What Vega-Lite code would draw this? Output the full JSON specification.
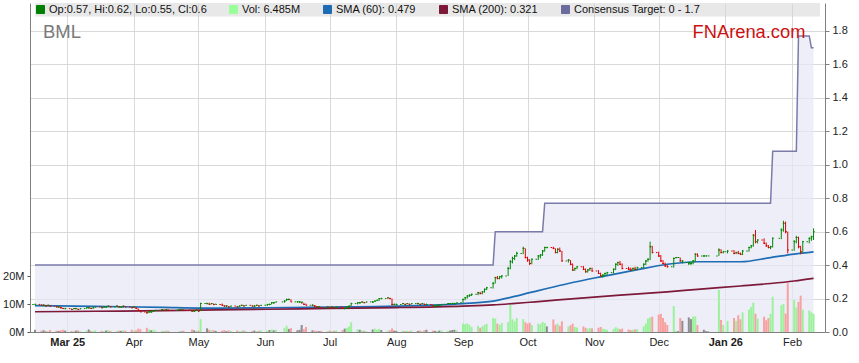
{
  "$schema": "https://vega.github.io/schema/vega-lite/v6.json",
  "width": 795,
  "height": 329,
  "autosize": {"type": "none"},
  "padding": {"left": 30, "top": 3, "right": 34, "bottom": 31},
  "background": "white",
  "config": {
    "font": "Liberation Sans",
    "view": {"stroke": null},
    "axis": {"labelFont": "Liberation Sans", "labelFontSize": 11, "labelColor": "#222222"}
  },
  "datasets": {
    "tgt": [
      {"d": "2025-02-14", "t": 0.4},
      {"d": "2025-09-15", "t": 0.4},
      {"d": "2025-09-16", "t": 0.6},
      {"d": "2025-10-08", "t": 0.6},
      {"d": "2025-10-09", "t": 0.77},
      {"d": "2026-01-22", "t": 0.77},
      {"d": "2026-01-23", "t": 1.08},
      {"d": "2026-02-03", "t": 1.08},
      {"d": "2026-02-04", "t": 1.77},
      {"d": "2026-02-09", "t": 1.77},
      {"d": "2026-02-10", "t": 1.7},
      {"d": "2026-02-11", "t": 1.7}
    ],
    "sma": [
      {"d": "2025-02-14", "m60": 0.158, "m200": 0.121},
      {"d": "2025-03-14", "m60": 0.153, "m200": 0.124},
      {"d": "2025-04-15", "m60": 0.147, "m200": 0.128},
      {"d": "2025-05-01", "m60": 0.143, "m200": 0.131},
      {"d": "2025-06-02", "m60": 0.145, "m200": 0.136},
      {"d": "2025-07-01", "m60": 0.149, "m200": 0.141},
      {"d": "2025-08-01", "m60": 0.155, "m200": 0.146},
      {"d": "2025-09-01", "m60": 0.17, "m200": 0.155},
      {"d": "2025-09-15", "m60": 0.185, "m200": 0.162},
      {"d": "2025-09-24", "m60": 0.21, "m200": 0.17},
      {"d": "2025-10-02", "m60": 0.235, "m200": 0.178},
      {"d": "2025-10-10", "m60": 0.26, "m200": 0.186},
      {"d": "2025-10-20", "m60": 0.29, "m200": 0.197},
      {"d": "2025-11-04", "m60": 0.33, "m200": 0.212},
      {"d": "2025-11-20", "m60": 0.37, "m200": 0.226},
      {"d": "2025-12-05", "m60": 0.405, "m200": 0.24},
      {"d": "2025-12-19", "m60": 0.42, "m200": 0.255},
      {"d": "2026-01-08", "m60": 0.42, "m200": 0.275},
      {"d": "2026-01-22", "m60": 0.445, "m200": 0.29},
      {"d": "2026-02-02", "m60": 0.466, "m200": 0.305},
      {"d": "2026-02-11", "m60": 0.479, "m200": 0.321}
    ],
    "ohlc": [
      {"d":"2025-02-14","o":0.165,"h":0.17,"l":0.16,"c":0.165,"v":0.8},
      {"d":"2025-02-17","o":0.165,"h":0.165,"l":0.16,"c":0.16,"v":0.5},
      {"d":"2025-02-18","o":0.16,"h":0.165,"l":0.155,"c":0.16,"v":0.6},
      {"d":"2025-02-19","o":0.16,"h":0.16,"l":0.155,"c":0.155,"v":0.4},
      {"d":"2025-02-20","o":0.155,"h":0.16,"l":0.155,"c":0.16,"v":0.3},
      {"d":"2025-02-21","o":0.16,"h":0.16,"l":0.15,"c":0.155,"v":0.7},
      {"d":"2025-02-24","o":0.155,"h":0.155,"l":0.15,"c":0.15,"v":0.5},
      {"d":"2025-02-25","o":0.15,"h":0.155,"l":0.145,"c":0.15,"v":0.4},
      {"d":"2025-02-26","o":0.15,"h":0.15,"l":0.14,"c":0.145,"v":0.6},
      {"d":"2025-02-27","o":0.145,"h":0.145,"l":0.14,"c":0.14,"v":0.8},
      {"d":"2025-02-28","o":0.14,"h":0.145,"l":0.135,"c":0.14,"v":0.5},
      {"d":"2025-03-03","o":0.14,"h":0.14,"l":0.135,"c":0.135,"v":0.4},
      {"d":"2025-03-04","o":0.135,"h":0.14,"l":0.135,"c":0.14,"v":0.3},
      {"d":"2025-03-05","o":0.14,"h":0.145,"l":0.135,"c":0.14,"v":0.5},
      {"d":"2025-03-06","o":0.14,"h":0.14,"l":0.135,"c":0.135,"v":0.6},
      {"d":"2025-03-07","o":0.135,"h":0.14,"l":0.135,"c":0.14,"v":0.3},
      {"d":"2025-03-10","o":0.14,"h":0.145,"l":0.14,"c":0.145,"v":0.5},
      {"d":"2025-03-11","o":0.145,"h":0.15,"l":0.14,"c":0.145,"v":0.9},
      {"d":"2025-03-12","o":0.145,"h":0.145,"l":0.14,"c":0.14,"v":0.4},
      {"d":"2025-03-13","o":0.14,"h":0.145,"l":0.14,"c":0.145,"v":0.3},
      {"d":"2025-03-14","o":0.145,"h":0.15,"l":0.145,"c":0.15,"v":0.6},
      {"d":"2025-03-17","o":0.15,"h":0.15,"l":0.145,"c":0.145,"v":0.4},
      {"d":"2025-03-18","o":0.145,"h":0.15,"l":0.145,"c":0.15,"v":0.3},
      {"d":"2025-03-19","o":0.15,"h":0.155,"l":0.145,"c":0.15,"v":0.5},
      {"d":"2025-03-20","o":0.15,"h":0.155,"l":0.15,"c":0.155,"v":0.7},
      {"d":"2025-03-21","o":0.155,"h":0.155,"l":0.15,"c":0.15,"v":0.4},
      {"d":"2025-03-24","o":0.15,"h":0.155,"l":0.15,"c":0.155,"v":0.3},
      {"d":"2025-03-25","o":0.155,"h":0.155,"l":0.15,"c":0.15,"v":0.5},
      {"d":"2025-03-26","o":0.15,"h":0.15,"l":0.145,"c":0.15,"v":0.4},
      {"d":"2025-03-27","o":0.15,"h":0.155,"l":0.145,"c":0.155,"v":0.6},
      {"d":"2025-03-28","o":0.155,"h":0.155,"l":0.15,"c":0.15,"v":0.5},
      {"d":"2025-03-31","o":0.15,"h":0.15,"l":0.145,"c":0.145,"v":0.8},
      {"d":"2025-04-01","o":0.145,"h":0.15,"l":0.145,"c":0.15,"v":0.4},
      {"d":"2025-04-02","o":0.15,"h":0.15,"l":0.14,"c":0.14,"v":0.6},
      {"d":"2025-04-03","o":0.14,"h":0.14,"l":0.125,"c":0.13,"v":1.2},
      {"d":"2025-04-04","o":0.13,"h":0.13,"l":0.12,"c":0.12,"v":1.0},
      {"d":"2025-04-07","o":0.12,"h":0.12,"l":0.11,"c":0.115,"v":1.5},
      {"d":"2025-04-08","o":0.115,"h":0.125,"l":0.115,"c":0.12,"v":0.9},
      {"d":"2025-04-09","o":0.12,"h":0.125,"l":0.115,"c":0.12,"v":0.6},
      {"d":"2025-04-10","o":0.12,"h":0.13,"l":0.12,"c":0.125,"v":0.8},
      {"d":"2025-04-11","o":0.125,"h":0.13,"l":0.125,"c":0.13,"v":0.5},
      {"d":"2025-04-14","o":0.13,"h":0.135,"l":0.13,"c":0.135,"v":0.4},
      {"d":"2025-04-15","o":0.135,"h":0.135,"l":0.13,"c":0.13,"v":0.3},
      {"d":"2025-04-16","o":0.13,"h":0.135,"l":0.13,"c":0.135,"v":0.6},
      {"d":"2025-04-17","o":0.135,"h":0.135,"l":0.13,"c":0.13,"v":0.4},
      {"d":"2025-04-22","o":0.13,"h":0.135,"l":0.13,"c":0.135,"v":0.3},
      {"d":"2025-04-23","o":0.135,"h":0.135,"l":0.13,"c":0.135,"v":0.2},
      {"d":"2025-04-24","o":0.135,"h":0.135,"l":0.125,"c":0.13,"v":0.5},
      {"d":"2025-04-28","o":0.13,"h":0.13,"l":0.12,"c":0.125,"v":0.9},
      {"d":"2025-04-29","o":0.125,"h":0.13,"l":0.12,"c":0.125,"v":0.6},
      {"d":"2025-04-30","o":0.125,"h":0.13,"l":0.125,"c":0.13,"v":0.4},
      {"d":"2025-05-01","o":0.13,"h":0.13,"l":0.12,"c":0.125,"v":0.5},
      {"d":"2025-05-02","o":0.125,"h":0.175,"l":0.125,"c":0.17,"v":4.6},
      {"d":"2025-05-05","o":0.17,"h":0.175,"l":0.165,"c":0.17,"v":1.3},
      {"d":"2025-05-06","o":0.17,"h":0.175,"l":0.165,"c":0.165,"v":0.8},
      {"d":"2025-05-07","o":0.165,"h":0.17,"l":0.165,"c":0.17,"v":0.6},
      {"d":"2025-05-08","o":0.17,"h":0.17,"l":0.16,"c":0.165,"v":0.7},
      {"d":"2025-05-09","o":0.165,"h":0.17,"l":0.165,"c":0.165,"v":0.4},
      {"d":"2025-05-12","o":0.165,"h":0.17,"l":0.16,"c":0.16,"v":0.5},
      {"d":"2025-05-13","o":0.16,"h":0.16,"l":0.15,"c":0.155,"v":0.7},
      {"d":"2025-05-14","o":0.155,"h":0.16,"l":0.15,"c":0.155,"v":0.3},
      {"d":"2025-05-15","o":0.155,"h":0.155,"l":0.15,"c":0.15,"v":0.6},
      {"d":"2025-05-16","o":0.15,"h":0.155,"l":0.15,"c":0.155,"v":0.4},
      {"d":"2025-05-19","o":0.155,"h":0.155,"l":0.15,"c":0.15,"v":0.5},
      {"d":"2025-05-20","o":0.15,"h":0.155,"l":0.15,"c":0.155,"v":0.3},
      {"d":"2025-05-21","o":0.155,"h":0.16,"l":0.155,"c":0.16,"v":0.4},
      {"d":"2025-05-22","o":0.16,"h":0.16,"l":0.155,"c":0.155,"v":0.6},
      {"d":"2025-05-23","o":0.155,"h":0.16,"l":0.155,"c":0.16,"v":0.3},
      {"d":"2025-05-26","o":0.16,"h":0.16,"l":0.155,"c":0.155,"v":0.4},
      {"d":"2025-05-27","o":0.155,"h":0.16,"l":0.15,"c":0.155,"v":0.5},
      {"d":"2025-05-28","o":0.155,"h":0.16,"l":0.155,"c":0.16,"v":0.3},
      {"d":"2025-05-29","o":0.16,"h":0.16,"l":0.155,"c":0.155,"v":0.4},
      {"d":"2025-05-30","o":0.155,"h":0.16,"l":0.155,"c":0.16,"v":0.6},
      {"d":"2025-06-02","o":0.16,"h":0.165,"l":0.155,"c":0.165,"v":0.5},
      {"d":"2025-06-03","o":0.165,"h":0.17,"l":0.16,"c":0.165,"v":0.7},
      {"d":"2025-06-04","o":0.165,"h":0.175,"l":0.165,"c":0.175,"v":0.9},
      {"d":"2025-06-05","o":0.175,"h":0.18,"l":0.17,"c":0.175,"v":0.6},
      {"d":"2025-06-06","o":0.175,"h":0.18,"l":0.175,"c":0.18,"v":0.8},
      {"d":"2025-06-10","o":0.18,"h":0.19,"l":0.175,"c":0.185,"v":1.5},
      {"d":"2025-06-11","o":0.185,"h":0.2,"l":0.185,"c":0.195,"v":2.2},
      {"d":"2025-06-12","o":0.195,"h":0.2,"l":0.19,"c":0.195,"v":1.1},
      {"d":"2025-06-13","o":0.195,"h":0.195,"l":0.18,"c":0.18,"v":1.4},
      {"d":"2025-06-16","o":0.18,"h":0.185,"l":0.18,"c":0.18,"v":0.6},
      {"d":"2025-06-17","o":0.18,"h":0.185,"l":0.175,"c":0.18,"v":0.8},
      {"d":"2025-06-18","o":0.18,"h":0.18,"l":0.17,"c":0.18,"v":2.5},
      {"d":"2025-06-19","o":0.175,"h":0.175,"l":0.165,"c":0.165,"v":1.0},
      {"d":"2025-06-20","o":0.165,"h":0.17,"l":0.16,"c":0.16,"v":1.8},
      {"d":"2025-06-23","o":0.16,"h":0.165,"l":0.155,"c":0.16,"v":0.6},
      {"d":"2025-06-24","o":0.16,"h":0.16,"l":0.15,"c":0.155,"v":0.5},
      {"d":"2025-06-25","o":0.155,"h":0.155,"l":0.145,"c":0.15,"v":0.4},
      {"d":"2025-06-26","o":0.15,"h":0.155,"l":0.145,"c":0.15,"v":0.3},
      {"d":"2025-06-27","o":0.15,"h":0.15,"l":0.145,"c":0.145,"v":0.4},
      {"d":"2025-06-30","o":0.145,"h":0.15,"l":0.145,"c":0.15,"v":0.3},
      {"d":"2025-07-01","o":0.15,"h":0.15,"l":0.145,"c":0.145,"v":0.5},
      {"d":"2025-07-02","o":0.145,"h":0.15,"l":0.145,"c":0.15,"v":0.3},
      {"d":"2025-07-03","o":0.15,"h":0.15,"l":0.145,"c":0.145,"v":0.4},
      {"d":"2025-07-04","o":0.145,"h":0.15,"l":0.14,"c":0.15,"v":0.6},
      {"d":"2025-07-07","o":0.15,"h":0.15,"l":0.14,"c":0.14,"v":0.7},
      {"d":"2025-07-08","o":0.14,"h":0.145,"l":0.135,"c":0.14,"v":1.2},
      {"d":"2025-07-09","o":0.14,"h":0.15,"l":0.14,"c":0.15,"v":1.5},
      {"d":"2025-07-10","o":0.15,"h":0.155,"l":0.145,"c":0.155,"v":2.0},
      {"d":"2025-07-11","o":0.155,"h":0.175,"l":0.155,"c":0.17,"v":3.5},
      {"d":"2025-07-14","o":0.17,"h":0.175,"l":0.165,"c":0.175,"v":1.0},
      {"d":"2025-07-15","o":0.175,"h":0.18,"l":0.17,"c":0.175,"v":0.8},
      {"d":"2025-07-16","o":0.175,"h":0.18,"l":0.175,"c":0.18,"v":0.6},
      {"d":"2025-07-17","o":0.18,"h":0.18,"l":0.175,"c":0.175,"v":0.4},
      {"d":"2025-07-18","o":0.175,"h":0.18,"l":0.175,"c":0.18,"v":0.3},
      {"d":"2025-07-21","o":0.18,"h":0.185,"l":0.175,"c":0.18,"v":0.9},
      {"d":"2025-07-22","o":0.18,"h":0.185,"l":0.18,"c":0.185,"v":1.2},
      {"d":"2025-07-23","o":0.185,"h":0.19,"l":0.185,"c":0.19,"v":0.8},
      {"d":"2025-07-24","o":0.19,"h":0.2,"l":0.185,"c":0.2,"v":1.1},
      {"d":"2025-07-25","o":0.2,"h":0.205,"l":0.195,"c":0.2,"v":0.7},
      {"d":"2025-07-28","o":0.2,"h":0.205,"l":0.2,"c":0.205,"v":0.5},
      {"d":"2025-07-29","o":0.205,"h":0.205,"l":0.195,"c":0.2,"v":0.6},
      {"d":"2025-07-30","o":0.2,"h":0.2,"l":0.16,"c":0.165,"v":1.3},
      {"d":"2025-07-31","o":0.165,"h":0.17,"l":0.16,"c":0.165,"v":0.5},
      {"d":"2025-08-01","o":0.165,"h":0.17,"l":0.16,"c":0.165,"v":0.4},
      {"d":"2025-08-04","o":0.165,"h":0.17,"l":0.165,"c":0.17,"v":0.5},
      {"d":"2025-08-05","o":0.17,"h":0.17,"l":0.165,"c":0.165,"v":0.3},
      {"d":"2025-08-06","o":0.165,"h":0.17,"l":0.165,"c":0.17,"v":0.4},
      {"d":"2025-08-07","o":0.17,"h":0.17,"l":0.165,"c":0.165,"v":0.3},
      {"d":"2025-08-08","o":0.165,"h":0.17,"l":0.165,"c":0.17,"v":0.6},
      {"d":"2025-08-11","o":0.17,"h":0.175,"l":0.165,"c":0.17,"v":0.4},
      {"d":"2025-08-12","o":0.17,"h":0.17,"l":0.165,"c":0.165,"v":0.5},
      {"d":"2025-08-13","o":0.165,"h":0.17,"l":0.165,"c":0.17,"v":0.3},
      {"d":"2025-08-14","o":0.17,"h":0.17,"l":0.165,"c":0.165,"v":0.6},
      {"d":"2025-08-15","o":0.165,"h":0.17,"l":0.16,"c":0.165,"v":0.8},
      {"d":"2025-08-18","o":0.165,"h":0.165,"l":0.155,"c":0.155,"v":0.5},
      {"d":"2025-08-19","o":0.155,"h":0.16,"l":0.15,"c":0.155,"v":0.4},
      {"d":"2025-08-20","o":0.155,"h":0.16,"l":0.155,"c":0.16,"v":0.3},
      {"d":"2025-08-21","o":0.16,"h":0.165,"l":0.155,"c":0.16,"v":0.5},
      {"d":"2025-08-22","o":0.16,"h":0.165,"l":0.16,"c":0.165,"v":0.6},
      {"d":"2025-08-25","o":0.165,"h":0.17,"l":0.165,"c":0.17,"v":0.4},
      {"d":"2025-08-26","o":0.17,"h":0.17,"l":0.165,"c":0.17,"v":0.5},
      {"d":"2025-08-27","o":0.17,"h":0.175,"l":0.17,"c":0.17,"v":0.7},
      {"d":"2025-08-28","o":0.17,"h":0.175,"l":0.165,"c":0.17,"v":0.8},
      {"d":"2025-08-29","o":0.17,"h":0.175,"l":0.17,"c":0.175,"v":0.6},
      {"d":"2025-09-01","o":0.175,"h":0.2,"l":0.175,"c":0.195,"v":3.0},
      {"d":"2025-09-02","o":0.195,"h":0.21,"l":0.19,"c":0.205,"v":2.8},
      {"d":"2025-09-03","o":0.205,"h":0.22,"l":0.2,"c":0.215,"v":3.1},
      {"d":"2025-09-04","o":0.215,"h":0.225,"l":0.21,"c":0.22,"v":2.5},
      {"d":"2025-09-05","o":0.22,"h":0.23,"l":0.215,"c":0.225,"v":1.8},
      {"d":"2025-09-08","o":0.225,"h":0.24,"l":0.22,"c":0.235,"v":2.2},
      {"d":"2025-09-09","o":0.235,"h":0.24,"l":0.225,"c":0.23,"v":1.5},
      {"d":"2025-09-10","o":0.23,"h":0.245,"l":0.225,"c":0.24,"v":2.0},
      {"d":"2025-09-11","o":0.24,"h":0.26,"l":0.235,"c":0.255,"v":2.6},
      {"d":"2025-09-12","o":0.255,"h":0.27,"l":0.25,"c":0.265,"v":2.9},
      {"d":"2025-09-15","o":0.265,"h":0.3,"l":0.26,"c":0.29,"v":5.0},
      {"d":"2025-09-16","o":0.29,"h":0.33,"l":0.29,"c":0.325,"v":4.8},
      {"d":"2025-09-17","o":0.325,"h":0.335,"l":0.315,"c":0.32,"v":3.0},
      {"d":"2025-09-18","o":0.32,"h":0.335,"l":0.315,"c":0.33,"v":2.5},
      {"d":"2025-09-19","o":0.33,"h":0.34,"l":0.32,"c":0.335,"v":3.2},
      {"d":"2025-09-22","o":0.335,"h":0.39,"l":0.335,"c":0.38,"v":3.5},
      {"d":"2025-09-23","o":0.38,"h":0.43,"l":0.375,"c":0.42,"v":10.0},
      {"d":"2025-09-24","o":0.42,"h":0.45,"l":0.41,"c":0.44,"v":4.5},
      {"d":"2025-09-25","o":0.44,"h":0.46,"l":0.43,"c":0.455,"v":3.8},
      {"d":"2025-09-26","o":0.455,"h":0.48,"l":0.45,"c":0.47,"v":5.0},
      {"d":"2025-09-29","o":0.47,"h":0.51,"l":0.465,"c":0.5,"v":4.6},
      {"d":"2025-09-30","o":0.5,"h":0.5,"l":0.44,"c":0.445,"v":3.5},
      {"d":"2025-10-01","o":0.445,"h":0.45,"l":0.42,"c":0.43,"v":3.0},
      {"d":"2025-10-02","o":0.43,"h":0.435,"l":0.4,"c":0.41,"v":3.3},
      {"d":"2025-10-03","o":0.41,"h":0.44,"l":0.405,"c":0.435,"v":2.5},
      {"d":"2025-10-06","o":0.435,"h":0.46,"l":0.43,"c":0.455,"v":3.0},
      {"d":"2025-10-07","o":0.455,"h":0.465,"l":0.44,"c":0.46,"v":2.8},
      {"d":"2025-10-08","o":0.46,"h":0.49,"l":0.455,"c":0.485,"v":3.6},
      {"d":"2025-10-09","o":0.485,"h":0.51,"l":0.48,"c":0.505,"v":3.2},
      {"d":"2025-10-10","o":0.505,"h":0.51,"l":0.5,"c":0.505,"v":2.0},
      {"d":"2025-10-13","o":0.505,"h":0.51,"l":0.495,"c":0.5,"v":4.5},
      {"d":"2025-10-14","o":0.5,"h":0.5,"l":0.47,"c":0.475,"v":2.6},
      {"d":"2025-10-15","o":0.475,"h":0.5,"l":0.47,"c":0.495,"v":3.0},
      {"d":"2025-10-16","o":0.495,"h":0.505,"l":0.48,"c":0.485,"v":2.2},
      {"d":"2025-10-17","o":0.485,"h":0.485,"l":0.42,"c":0.425,"v":3.8},
      {"d":"2025-10-20","o":0.425,"h":0.435,"l":0.415,"c":0.43,"v":2.0},
      {"d":"2025-10-21","o":0.43,"h":0.43,"l":0.4,"c":0.405,"v":2.4},
      {"d":"2025-10-22","o":0.405,"h":0.41,"l":0.365,"c":0.37,"v":3.0},
      {"d":"2025-10-23","o":0.37,"h":0.385,"l":0.365,"c":0.38,"v":1.8},
      {"d":"2025-10-24","o":0.38,"h":0.395,"l":0.375,"c":0.39,"v":1.6},
      {"d":"2025-10-27","o":0.39,"h":0.395,"l":0.37,"c":0.375,"v":2.0},
      {"d":"2025-10-28","o":0.375,"h":0.38,"l":0.355,"c":0.36,"v":1.5},
      {"d":"2025-10-29","o":0.36,"h":0.375,"l":0.355,"c":0.37,"v":1.2},
      {"d":"2025-10-30","o":0.37,"h":0.385,"l":0.365,"c":0.38,"v":1.4},
      {"d":"2025-10-31","o":0.38,"h":0.385,"l":0.36,"c":0.365,"v":1.3},
      {"d":"2025-11-03","o":0.365,"h":0.37,"l":0.35,"c":0.35,"v":1.5},
      {"d":"2025-11-04","o":0.35,"h":0.355,"l":0.33,"c":0.335,"v":1.8},
      {"d":"2025-11-05","o":0.335,"h":0.345,"l":0.325,"c":0.34,"v":1.2},
      {"d":"2025-11-06","o":0.34,"h":0.355,"l":0.335,"c":0.35,"v":1.0},
      {"d":"2025-11-07","o":0.35,"h":0.36,"l":0.34,"c":0.355,"v":0.8},
      {"d":"2025-11-10","o":0.355,"h":0.38,"l":0.35,"c":0.375,"v":1.1},
      {"d":"2025-11-11","o":0.375,"h":0.41,"l":0.37,"c":0.405,"v":1.7},
      {"d":"2025-11-12","o":0.405,"h":0.42,"l":0.395,"c":0.415,"v":1.3},
      {"d":"2025-11-13","o":0.415,"h":0.425,"l":0.4,"c":0.405,"v":1.0},
      {"d":"2025-11-14","o":0.405,"h":0.41,"l":0.375,"c":0.38,"v":1.2},
      {"d":"2025-11-17","o":0.38,"h":0.39,"l":0.37,"c":0.375,"v":0.9},
      {"d":"2025-11-18","o":0.375,"h":0.385,"l":0.365,"c":0.37,"v":0.7},
      {"d":"2025-11-19","o":0.37,"h":0.385,"l":0.365,"c":0.38,"v":0.8},
      {"d":"2025-11-20","o":0.38,"h":0.39,"l":0.37,"c":0.375,"v":0.9},
      {"d":"2025-11-21","o":0.375,"h":0.39,"l":0.37,"c":0.385,"v":1.0},
      {"d":"2025-11-24","o":0.385,"h":0.41,"l":0.38,"c":0.405,"v":2.0},
      {"d":"2025-11-25","o":0.405,"h":0.43,"l":0.4,"c":0.425,"v":3.0},
      {"d":"2025-11-26","o":0.425,"h":0.44,"l":0.42,"c":0.435,"v":4.8},
      {"d":"2025-11-27","o":0.435,"h":0.54,"l":0.43,"c":0.51,"v":5.2},
      {"d":"2025-11-28","o":0.51,"h":0.515,"l":0.47,"c":0.475,"v":5.5},
      {"d":"2025-12-01","o":0.475,"h":0.48,"l":0.45,"c":0.455,"v":6.2},
      {"d":"2025-12-02","o":0.455,"h":0.46,"l":0.42,"c":0.425,"v":6.5},
      {"d":"2025-12-03","o":0.425,"h":0.43,"l":0.405,"c":0.41,"v":5.0},
      {"d":"2025-12-04","o":0.41,"h":0.415,"l":0.39,"c":0.395,"v":3.5},
      {"d":"2025-12-05","o":0.395,"h":0.4,"l":0.385,"c":0.39,"v":2.5},
      {"d":"2025-12-08","o":0.39,"h":0.445,"l":0.385,"c":0.44,"v":9.3},
      {"d":"2025-12-09","o":0.44,"h":0.445,"l":0.44,"c":0.445,"v":0.4},
      {"d":"2025-12-10","o":0.445,"h":0.445,"l":0.445,"c":0.445,"v":0.3},
      {"d":"2025-12-11","o":0.445,"h":0.445,"l":0.42,"c":0.425,"v":5.0},
      {"d":"2025-12-12","o":0.425,"h":0.43,"l":0.41,"c":0.425,"v":4.0},
      {"d":"2025-12-15","o":0.415,"h":0.42,"l":0.4,"c":0.415,"v":5.2},
      {"d":"2025-12-16","o":0.41,"h":0.42,"l":0.4,"c":0.41,"v":4.6},
      {"d":"2025-12-17","o":0.41,"h":0.43,"l":0.405,"c":0.425,"v":5.5},
      {"d":"2025-12-18","o":0.425,"h":0.47,"l":0.42,"c":0.465,"v":5.6},
      {"d":"2025-12-19","o":0.465,"h":0.47,"l":0.45,"c":0.455,"v":2.5},
      {"d":"2025-12-22","o":0.455,"h":0.46,"l":0.45,"c":0.455,"v":0.8},
      {"d":"2025-12-23","o":0.455,"h":0.455,"l":0.455,"c":0.455,"v":0.3},
      {"d":"2025-12-24","o":0.455,"h":0.455,"l":0.455,"c":0.455,"v":0.2},
      {"d":"2025-12-29","o":0.455,"h":0.5,"l":0.455,"c":0.49,"v":15.0},
      {"d":"2025-12-30","o":0.49,"h":0.495,"l":0.47,"c":0.475,"v":4.3},
      {"d":"2025-12-31","o":0.475,"h":0.485,"l":0.47,"c":0.48,"v":2.5},
      {"d":"2026-01-02","o":0.48,"h":0.49,"l":0.47,"c":0.485,"v":4.0},
      {"d":"2026-01-05","o":0.485,"h":0.49,"l":0.465,"c":0.47,"v":5.0},
      {"d":"2026-01-06","o":0.47,"h":0.48,"l":0.465,"c":0.475,"v":4.0},
      {"d":"2026-01-07","o":0.475,"h":0.485,"l":0.465,"c":0.47,"v":6.0},
      {"d":"2026-01-08","o":0.47,"h":0.475,"l":0.46,"c":0.465,"v":4.5},
      {"d":"2026-01-09","o":0.465,"h":0.49,"l":0.46,"c":0.485,"v":7.0},
      {"d":"2026-01-12","o":0.485,"h":0.51,"l":0.48,"c":0.505,"v":8.0},
      {"d":"2026-01-13","o":0.505,"h":0.52,"l":0.5,"c":0.515,"v":9.0},
      {"d":"2026-01-14","o":0.515,"h":0.585,"l":0.51,"c":0.575,"v":10.5},
      {"d":"2026-01-15","o":0.58,"h":0.61,"l":0.53,"c":0.54,"v":6.5},
      {"d":"2026-01-16","o":0.54,"h":0.555,"l":0.53,"c":0.55,"v":4.8},
      {"d":"2026-01-19","o":0.55,"h":0.56,"l":0.525,"c":0.53,"v":5.5},
      {"d":"2026-01-20","o":0.53,"h":0.535,"l":0.51,"c":0.515,"v":4.2},
      {"d":"2026-01-21","o":0.515,"h":0.52,"l":0.5,"c":0.505,"v":5.0},
      {"d":"2026-01-22","o":0.505,"h":0.515,"l":0.495,"c":0.51,"v":6.5},
      {"d":"2026-01-23","o":0.51,"h":0.565,"l":0.505,"c":0.56,"v":12.6},
      {"d":"2026-01-27","o":0.56,"h":0.62,"l":0.555,"c":0.61,"v":9.5},
      {"d":"2026-01-28","o":0.61,"h":0.665,"l":0.6,"c":0.65,"v":10.0},
      {"d":"2026-01-29","o":0.65,"h":0.66,"l":0.59,"c":0.6,"v":6.6},
      {"d":"2026-01-30","o":0.6,"h":0.6,"l":0.47,"c":0.49,"v":17.4},
      {"d":"2026-02-02","o":0.49,"h":0.55,"l":0.485,"c":0.54,"v":11.4},
      {"d":"2026-02-03","o":0.54,"h":0.575,"l":0.53,"c":0.565,"v":8.8},
      {"d":"2026-02-04","o":0.565,"h":0.57,"l":0.5,"c":0.51,"v":10.8},
      {"d":"2026-02-05","o":0.51,"h":0.515,"l":0.465,"c":0.48,"v":13.0},
      {"d":"2026-02-06","o":0.48,"h":0.545,"l":0.475,"c":0.54,"v":8.0},
      {"d":"2026-02-09","o":0.54,"h":0.565,"l":0.53,"c":0.56,"v":7.7},
      {"d":"2026-02-10","o":0.56,"h":0.575,"l":0.545,"c":0.57,"v":7.0},
      {"d":"2026-02-11","o":0.57,"h":0.62,"l":0.55,"c":0.6,"v":6.485}
    ]
  },
  "layer": [
    {
      "data": {"name": "tgt"},
      "mark": {"type": "area", "color": "#e7e7f7", "line": {"color": "#7b7baa", "strokeWidth": 1.5}},
      "encoding": {
        "x": {
          "field": "d",
          "type": "temporal",
          "title": null,
          "scale": {"type": "utc", "nice": false, "domain": [1739491200000, 1771027200000]},
          "axis": {
            "title": null,
            "values": [1740787200000, 1743465600000, 1746057600000, 1748736000000, 1751328000000, 1754006400000, 1756684800000, 1759276800000, 1761955200000, 1764547200000, 1767225600000, 1769904000000],
            "labelExpr": "utcFormat(datum.value, (utcmonth(datum.value)==0 || (utcmonth(datum.value)==2 && utcyear(datum.value)==2025)) ? '%b %y' : '%b')",
            "labelFontWeight": {
              "condition": {"test": "utcmonth(datum.value)==0 || (utcmonth(datum.value)==2 && utcyear(datum.value)==2025)", "value": "bold"},
              "value": "normal"
            },
            "grid": true,
            "gridColor": "#d9d9d9",
            "ticks": false,
            "labelPadding": 4,
            "domainColor": "#808080",
            "labelOverlap": false
          }
        },
        "y": {
          "field": "t",
          "type": "quantitative",
          "scale": {"domain": [0, 1.967], "nice": false},
          "axis": {
            "orient": "right",
            "title": null,
            "values": [0, 0.2, 0.4, 0.6, 0.8, 1, 1.2, 1.4, 1.6, 1.8],
            "format": ".1f",
            "grid": true,
            "gridColor": "#d9d9d9",
            "tickSize": 4,
            "labelPadding": 3,
            "domainColor": "#808080",
            "tickColor": "#808080"
          }
        }
      }
    },
    {
      "data": {"name": "ohlc"},
      "mark": {"type": "bar", "size": 2},
      "encoding": {
        "x": {"field": "d", "type": "temporal", "title": null, "scale": {"type": "utc", "nice": false, "domain": [1739491200000, 1771027200000]}},
        "y": {
          "field": "v",
          "type": "quantitative",
          "scale": {"domain": [0, 117.5], "nice": false},
          "axis": {
            "orient": "left",
            "title": null,
            "values": [0, 10, 20],
            "labelExpr": "datum.value + 'M'",
            "grid": false,
            "tickSize": 3,
            "labelPadding": 3,
            "domainColor": "#808080",
            "tickColor": "#555555"
          }
        },
        "color": {
          "condition": [
            {"test": "datum.c > datum.o", "value": "#9cf29c"},
            {"test": "datum.c < datum.o", "value": "#f7a1a1"}
          ],
          "value": "#8c8c8c"
        }
      }
    },
    {
      "layer": [
        {
          "data": {"name": "sma"},
          "transform": [{"fold": ["m60", "m200"], "as": ["s", "val"]}],
          "mark": {"type": "line", "strokeWidth": 1.7, "interpolate": "monotone"},
          "encoding": {
            "x": {"field": "d", "type": "temporal", "title": null, "scale": {"type": "utc", "nice": false, "domain": [1739491200000, 1771027200000]}},
            "y": {"field": "val", "type": "quantitative", "scale": {"domain": [0, 1.967], "nice": false}, "axis": null},
            "color": {
              "field": "s",
              "type": "nominal",
              "scale": {
                "domain": ["op", "vol", "m60", "m200", "tgt"],
                "range": ["#008000", "#99ff99", "#1e6db4", "#7d1939", "#6b6b9e"]
              },
              "legend": {
                "orient": "none",
                "legendX": 5,
                "legendY": 1,
                "direction": "horizontal",
                "columns": 5,
                "gridAlign": "none",
                "title": null,
                "labelFontSize": 11,
                "labelColor": "#111111",
                "labelFont": "Liberation Sans",
                "labelLimit": 300,
                "symbolType": "square",
                "symbolSize": 64,
                "columnPadding": 20,
                "labelOffset": 3,
                "padding": 0,
                "labelExpr": "datum.value=='op' ? 'Op:0.57, Hi:0.62, Lo:0.55, Cl:0.6' : datum.value=='vol' ? 'Vol: 6.485M' : datum.value=='m60' ? 'SMA (60): 0.479' : datum.value=='m200' ? 'SMA (200): 0.321' : 'Consensus Target: 0 - 1.7'",
                "encode": {
                  "symbols": {
                    "update": {
                      "fill": {"scale": "color", "field": "value"},
                      "stroke": {"value": "#333333"},
                      "strokeWidth": {"value": 1},
                      "opacity": {"value": 1}
                    }
                  }
                }
              }
            }
          }
        },
        {
          "data": {"name": "ohlc"},
          "mark": {"type": "rule", "strokeWidth": 1},
          "encoding": {
            "x": {"field": "d", "type": "temporal", "title": null, "scale": {"type": "utc", "nice": false, "domain": [1739491200000, 1771027200000]}},
            "y": {"field": "l", "type": "quantitative", "scale": {"domain": [0, 1.967], "nice": false}, "axis": null},
            "y2": {"field": "h"},
            "color": {"condition": {"test": "datum.c < datum.o", "value": "#dd0000"}, "value": "#008800"}
          }
        },
        {
          "data": {"name": "ohlc"},
          "mark": {"type": "tick", "orient": "horizontal", "size": 1.5, "thickness": 1, "xOffset": -2, "opacity": 1},
          "encoding": {
            "x": {"field": "d", "type": "temporal", "title": null, "scale": {"type": "utc", "nice": false, "domain": [1739491200000, 1771027200000]}},
            "y": {"field": "o", "type": "quantitative", "scale": {"domain": [0, 1.967], "nice": false}, "axis": null},
            "color": {"condition": {"test": "datum.c < datum.o", "value": "#dd0000"}, "value": "#008800"}
          }
        },
        {
          "data": {"name": "ohlc"},
          "mark": {"type": "tick", "orient": "horizontal", "size": 1.5, "thickness": 1, "xOffset": 0.5, "opacity": 1},
          "encoding": {
            "x": {"field": "d", "type": "temporal", "title": null, "scale": {"type": "utc", "nice": false, "domain": [1739491200000, 1771027200000]}},
            "y": {"field": "c", "type": "quantitative", "scale": {"domain": [0, 1.967], "nice": false}, "axis": null},
            "color": {"condition": {"test": "datum.c < datum.o", "value": "#dd0000"}, "value": "#008800"}
          }
        },
        {
          "data": {"values": [{"k": 1}]},
          "mark": {"type": "rect", "color": "#d5d5d5", "opacity": 0.55},
          "encoding": {
            "x": {"datum": 1739491200000, "type": "temporal", "title": null, "scale": {"type": "utc", "nice": false, "domain": [1739491200000, 1771027200000]}},
            "x2": {"datum": 1771027200000},
            "y": {"datum": 1.887, "type": "quantitative", "scale": {"domain": [0, 1.967], "nice": false}, "axis": null},
            "y2": {"datum": 1.967}
          }
        },
        {
          "data": {"values": [{"k": 1}]},
          "mark": {"type": "text", "align": "left", "baseline": "alphabetic", "fontSize": 18.5, "color": "#7a7a7a", "font": "Liberation Sans"},
          "encoding": {
            "x": {"datum": 1739810880000, "type": "temporal", "title": null, "scale": {"type": "utc", "nice": false, "domain": [1739491200000, 1771027200000]}},
            "y": {"datum": 1.76, "type": "quantitative", "scale": {"domain": [0, 1.967], "nice": false}, "axis": null},
            "text": {"value": "BML"}
          }
        },
        {
          "data": {"values": [{"k": 1}]},
          "mark": {"type": "text", "align": "right", "baseline": "alphabetic", "fontSize": 18.3, "color": "#cc1111", "font": "Liberation Sans"},
          "encoding": {
            "x": {"datum": 1770440400000, "type": "temporal", "title": null, "scale": {"type": "utc", "nice": false, "domain": [1739491200000, 1771027200000]}},
            "y": {"datum": 1.755, "type": "quantitative", "scale": {"domain": [0, 1.967], "nice": false}, "axis": null},
            "text": {"value": "FNArena.com"}
          }
        }
      ]
    }
  ],
  "resolve": {"scale": {"y": "independent"}}
}
